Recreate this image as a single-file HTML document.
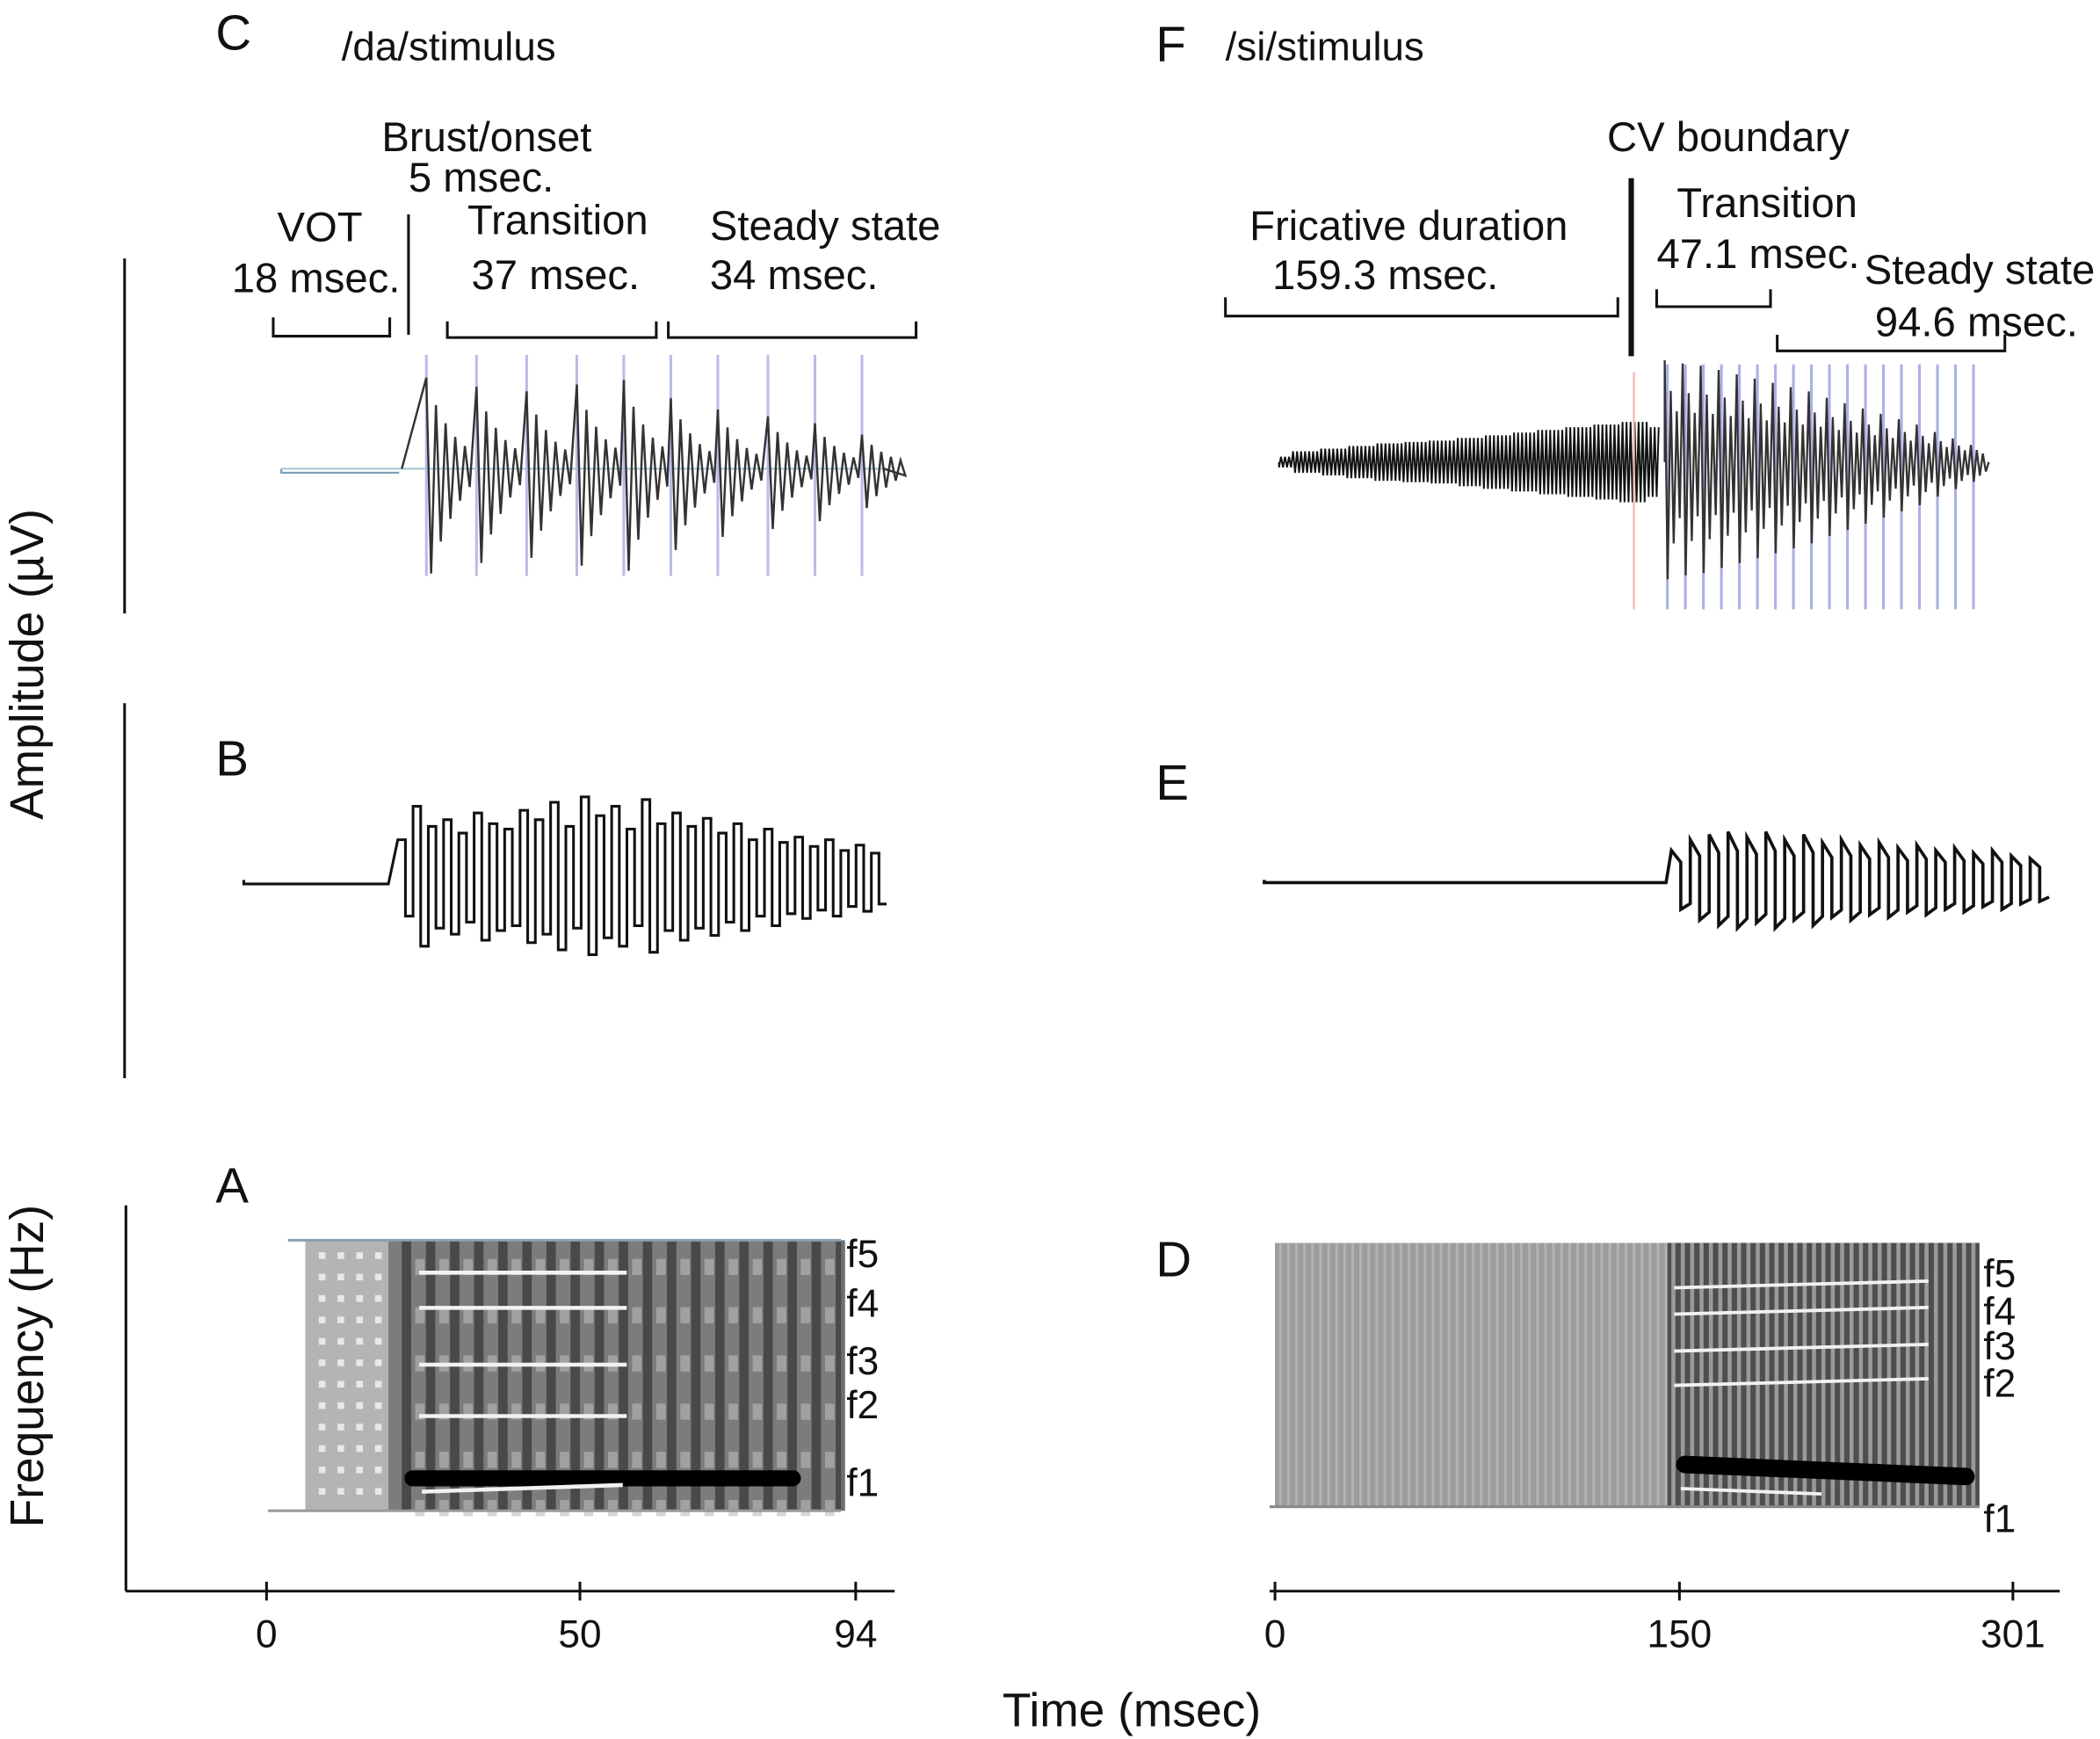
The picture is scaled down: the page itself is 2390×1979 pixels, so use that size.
<!DOCTYPE html>
<html><head><meta charset="utf-8"><style>
html,body{margin:0;padding:0;background:#fff;}
svg{display:block;}
text{font-family:"Liberation Sans",Arial,sans-serif;fill:#111;}
</style></head><body>
<svg id="fig" width="2390" height="1979" viewBox="0 0 1568 1298.4" xmlns="http://www.w3.org/2000/svg">
<g id="static">
<text x="161" y="37" font-size="37">C</text>
<text x="255" y="45" font-size="30">/da/stimulus</text>
<text x="863" y="46" font-size="37">F</text>
<text x="915" y="45" font-size="30">/si/stimulus</text>
<text x="161" y="579" font-size="37">B</text>
<text x="863" y="597" font-size="37">E</text>
<text x="161" y="898" font-size="37">A</text>
<text x="863" y="953" font-size="37">D</text>
<text transform="translate(32,496) rotate(-90)" text-anchor="middle" font-size="35">Amplitude (µV)</text>
<text transform="translate(32,1020) rotate(-90)" text-anchor="middle" font-size="35">Frequency (Hz)</text>
<text x="845" y="1289" text-anchor="middle" font-size="35">Time (msec)</text>
<line x1="93" y1="193" x2="93" y2="458" stroke="#111" stroke-width="2"/>
<line x1="93" y1="525" x2="93" y2="805" stroke="#111" stroke-width="2"/>
<line x1="94" y1="900" x2="94" y2="1188" stroke="#111" stroke-width="2"/>
<line x1="94" y1="1188" x2="668" y2="1188" stroke="#111" stroke-width="2"/>
<line x1="948" y1="1188" x2="1538" y2="1188" stroke="#111" stroke-width="2"/>
<text x="285" y="113" font-size="31">Brust/onset</text>
<text x="305" y="143" font-size="31">5 msec.</text>
<text x="207" y="180" font-size="31">VOT</text>
<text x="173" y="218" font-size="31">18 msec.</text>
<text x="349" y="175" font-size="31">Transition</text>
<text x="352" y="216" font-size="31">37 msec.</text>
<text x="530" y="179" font-size="31">Steady state</text>
<text x="530" y="216" font-size="31">34 msec.</text>
<line x1="305" y1="160" x2="305" y2="250" stroke="#111" stroke-width="2"/>
<path d="M204 237V251H291V237" fill="none" stroke="#111" stroke-width="2"/>
<path d="M334 240V252H490V240" fill="none" stroke="#111" stroke-width="2"/>
<path d="M499 240V252H684V240" fill="none" stroke="#111" stroke-width="2"/>
<text x="1200" y="113" font-size="31">CV boundary</text>
<line x1="1218" y1="133" x2="1218" y2="266" stroke="#111" stroke-width="4"/>
<text x="933" y="179" font-size="31">Fricative duration</text>
<text x="950" y="216" font-size="31">159.3 msec.</text>
<path d="M915 222V236H1208V222" fill="none" stroke="#111" stroke-width="2"/>
<text x="1252" y="162" font-size="31">Transition</text>
<text x="1237" y="200" font-size="31">47.1 msec.</text>
<path d="M1237 216V229H1322V216" fill="none" stroke="#111" stroke-width="2"/>
<text x="1392" y="212" font-size="31">Steady state</text>
<text x="1400" y="251" font-size="31">94.6 msec.</text>
<path d="M1327 250V262H1497V250" fill="none" stroke="#111" stroke-width="2"/>
<g>
<rect x="228" y="926" width="400" height="202" fill="#7c7c7c"/>
<rect x="228" y="926" width="62" height="202" fill="#b4b4b4"/>
<g id="specAstripes"></g>
<line x1="215" y1="926" x2="628" y2="926" stroke="#8aa0b0" stroke-width="2"/>
<line x1="200" y1="1128" x2="628" y2="1128" stroke="#999" stroke-width="2"/>
</g>
<g>
<rect x="952" y="928" width="526" height="197" fill="#9c9c9c"/>
<rect x="1245" y="928" width="233" height="197" fill="#4e4e4e"/>
<g id="specDstripes"></g>
<line x1="948" y1="1125" x2="1478" y2="1125" stroke="#888" stroke-width="2"/>
</g>
</g>
<g id="dyn"></g>
</svg>
<script>
const leftTickValues = [0, 50, 94];
const leftTickLabels = ["0", "50", "94"];
const rightTickValues = [0, 150, 301];
const rightTickLabels = ["0", "150", "301"];
const daPeriodStarts = [25.5, 33.5, 41.5, 49.5, 57, 64.5, 72, 80, 87.5, 95];
const daPeriodAmps = [80, 72, 68, 74, 78, 62, 52, 46, 40, 30];
const daResponseAmps = [30,55,40,45,35,50,42,38,52,45,58,40,62,48,55,38,60,42,50,40,46,35,42,30,38,28,32,25,30,22,26,20];
const siFricEnvelope = [4,8,10,12,14,15,16,18,20,22,24,26,28,30,26];
const siVowelAmps = [95,92,90,86,82,78,74,70,66,60,55,50,45,40,35,28,22,16];
const siResponseAmps = [22,30,34,36,32,36,30,34,28,30,26,28,24,26,22,24,20,22,18,16];
const daFormants = [12, 25, 46, 65, 88];
const siFormants = [17, 27, 41, 54, 86];

const svg = document.getElementById('dyn');
const NS = 'http://www.w3.org/2000/svg';
function el(tag, attrs, parent) {
  const e = document.createElementNS(NS, tag);
  for (const k in attrs) e.setAttribute(k, attrs[k]);
  (parent || svg).appendChild(e);
  return e;
}
function xLeft(t) { return 199 + t * 4.68; }
function xRight(t) { return t <= 150 ? 952 + t * (1254 - 952) / 150 : 1254 + (t - 150) * (1503 - 1254) / 151; }

leftTickValues.forEach((v, i) => {
  const t = el('text', {x: xLeft(v), y: 1230, 'text-anchor': 'middle', 'font-size': 29});
  
  
  t.textContent = leftTickLabels[i];
  const l = el('line', {x1: xLeft(v), x2: xLeft(v), y1: 1181, y2: 1195, stroke: '#111', 'stroke-width': 2});
  
  
});
rightTickValues.forEach((v, i) => {
  const t = el('text', {x: xRight(v), y: 1230, 'text-anchor': 'middle', 'font-size': 29});
  
  
  t.textContent = rightTickLabels[i];
  const l = el('line', {x1: xRight(v), x2: xRight(v), y1: 1181, y2: 1195, stroke: '#111', 'stroke-width': 2});
  
  
});

const decay = [1, -1.15, 0.7, -0.8, 0.5, -0.55, 0.35, -0.35, 0.25, -0.2];
(function(){
  const base = 350;
  let d = 'M210 ' + base;
  for (let x = 210; x <= 300; x += 4) d += ' L' + x + ' ' + (base + ((x / 4) % 2 ? 3 : -3));
  const v = el('path', {d: d, fill: 'none', stroke: '#7aa3b8', 'stroke-width': 1.5});
  
  
  el('line', {x1: 210, x2: 660, y1: base, y2: base, stroke: '#9cc0d0', 'stroke-width': 1.2});
  let p = 'M300 ' + base;
  daPeriodStarts.forEach((t, i) => {
    const x0 = xLeft(t);
    const bl = el('line', {x1: x0, x2: x0, y1: base - 85, y2: base + 80, stroke: '#b8bce8', 'stroke-width': 2});
    
    
    const A = daPeriodAmps[i];
    decay.forEach((f, k) => { p += ' L' + (x0 + k * 3.6).toFixed(1) + ' ' + (base - A * f * 0.85).toFixed(1); });
  });
  p += ' L660 ' + base;
  const w = el('path', {d: p, fill: 'none', stroke: '#333', 'stroke-width': 1.6});
  
  
})();

(function(){
  const base = 657;
  let p = 'M182 ' + base;
  for (let x = 182; x < 295; x += 6) p += ' L' + x + ' ' + (base + ((x / 6) % 2 ? 3 : -3));
  const step = (662 - 297) / daResponseAmps.length;
  daResponseAmps.forEach((a, i) => {
    const x = 297 + i * step;
    p += ' L' + x.toFixed(1) + ' ' + (base - a) + ' L' + (x + step / 2).toFixed(1) + ' ' + (base - a) + ' L' + (x + step / 2).toFixed(1) + ' ' + (base + a * 0.9) + ' L' + (x + step).toFixed(1) + ' ' + (base + a * 0.9);
  });
  const w = el('path', {d: p, fill: 'none', stroke: '#111', 'stroke-width': 2});
  
  
})();

(function(){
  const base = 345;
  let p = 'M955 ' + base;
  for (let x = 955; x < 1240; x += 1.5) {
    const t = (x - 955) / (1240 - 955) * (siFricEnvelope.length - 1);
    const a = siFricEnvelope[Math.round(t)];
    p += ' L' + x.toFixed(1) + ' ' + (base + (Math.round(x / 1.5) % 2 ? a : -a));
  }
  const f = el('path', {d: p, fill: 'none', stroke: '#111', 'stroke-width': 1.3});
  
  
  el('line', {x1: 1220, x2: 1220, y1: 278, y2: 455, stroke: '#f0b8b0', 'stroke-width': 1.5});
  const step = (1485 - 1243) / siVowelAmps.length;
  let q = 'M1243 ' + base;
  siVowelAmps.forEach((a, i) => {
    const x0 = 1243 + i * step;
    const bl = el('line', {x1: x0 + 2, x2: x0 + 2, y1: 272, y2: 455, stroke: '#aab0e6', 'stroke-width': 2});
    
    
    decay.slice(0, 6).forEach((fk, k) => { q += ' L' + (x0 + k * step / 6).toFixed(1) + ' ' + (base - a * fk * 0.8).toFixed(1); });
  });
  q += ' L1485 ' + base;
  const w = el('path', {d: q, fill: 'none', stroke: '#333', 'stroke-width': 1.5});
  
  
})();

(function(){
  const base = 657;
  let p = 'M944 ' + base;
  for (let x = 944; x < 1248; x += 6) p += ' L' + x + ' ' + (base + ((x / 6) % 2 ? 2 : -2));
  const step = (1530 - 1248) / siResponseAmps.length;
  siResponseAmps.forEach((a, i) => {
    const x = 1248 + i * step;
    p += ' L' + x.toFixed(1) + ' ' + (base - a) + ' L' + (x + step / 2).toFixed(1) + ' ' + (base - a * 0.6) + ' L' + (x + step / 2).toFixed(1) + ' ' + (base + a) + ' L' + (x + step).toFixed(1) + ' ' + (base + a * 0.8);
  });
  const w = el('path', {d: p, fill: 'none', stroke: '#111', 'stroke-width': 2.4});
  
  
})();

(function(){
  const gA = document.getElementById('specAstripes');
  for (let x = 300; x < 628; x += 18) el('rect', {x: x, y: 926, width: 7, height: 202, fill: '#333', opacity: 0.7}, gA);
  for (let x = 305; x < 628; x += 18) for (let y = 940; y < 1125; y += 36) el('rect', {x: x + 5, y: y, width: 7, height: 12, fill: '#bbb', opacity: 0.6}, gA);
  for (let x = 238; x < 290; x += 14) for (let y = 935; y < 1125; y += 16) el('rect', {x: x, y: y, width: 5, height: 5, fill: '#e8e8e8'}, gA);
  const gD = document.getElementById('specDstripes');
  for (let x = 955; x < 1245; x += 6) el('rect', {x: x, y: 928, width: 2, height: 197, fill: '#c8c8c8', opacity: 0.5}, gD);
  for (let x = 1248; x < 1478; x += 7) el('rect', {x: x, y: 928, width: 3, height: 197, fill: '#9a9a9a'}, gD);
  const yA = v => 926 + v / 100 * 202;
  const yD = v => 928 + v / 100 * 197;
  const labs = ['f5','f4','f3','f2','f1'];
  const labAy = [946, 983, 1026, 1059, 1117];
  const labDy = [961, 989, 1015, 1043, 1144];
  daFormants.forEach((v, i) => {
    if (i < 4) {
      const l = el('line', {x1: 313, x2: 468, y1: yA(v), y2: yA(v), stroke: '#f2f2f2', 'stroke-width': 3});
      
      
    } else {
      const l = el('line', {x1: 308, x2: 592, y1: yA(v), y2: yA(v), stroke: '#000', 'stroke-width': 12, 'stroke-linecap': 'round'});
      
      
      el('line', {x1: 315, x2: 465, y1: yA(v) + 10, y2: yA(v) + 5, stroke: '#f2f2f2', 'stroke-width': 3});
    }
    const t = el('text', {x: 632, y: labAy[i], 'font-size': 29});
    
    
    t.textContent = labs[i];
  });
  siFormants.forEach((v, i) => {
    if (i < 4) {
      const l = el('line', {x1: 1250, x2: 1440, y1: yD(v), y2: yD(v) - 5, stroke: '#f2f2f2', 'stroke-width': 2.5});
      
      
    } else {
      const l = el('line', {x1: 1258, x2: 1468, y1: yD(v) - 4, y2: yD(v) + 5, stroke: '#000', 'stroke-width': 13, 'stroke-linecap': 'round'});
      
      
      el('line', {x1: 1255, x2: 1360, y1: yD(v) + 14, y2: yD(v) + 18, stroke: '#f2f2f2', 'stroke-width': 2.5});
    }
    const t = el('text', {x: 1481, y: labDy[i], 'font-size': 29});
    
    
    t.textContent = labs[i];
  });
})();
</script>
</body></html>
